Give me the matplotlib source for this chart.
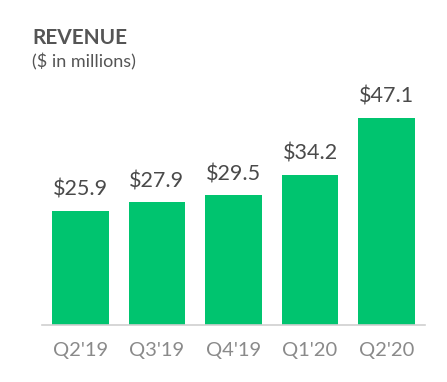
import matplotlib.pyplot as plt

quarters = ["Q2'19", "Q3'19", "Q4'19", "Q1'20", "Q2'20"]
revenue = [25.9, 27.9, 29.5, 34.2, 47.1]

green = '#00C46F'
plt.rcParams['font.family'] = ['Lato', 'DejaVu Sans']

fig = plt.figure(figsize=(4.47, 3.82), dpi=100)
ax = fig.add_axes([42/447, 57/382, 383/447, 220/382])

x = range(len(quarters))
bars = ax.bar(x, revenue, width=0.74, color=green)
for xi, v in zip(x, revenue):
    ax.annotate('$%.1f' % v, (xi, v), xytext=(0, 8), textcoords='offset points',
                ha='center', va='bottom', fontsize=15.5, color='#4a4a4a')

ax.set_xlim(-0.5, 4.5)
ax.set_ylim(0, 50)
ax.set_xticks(list(x))
ax.set_xticklabels(quarters, fontsize=14.5, color='#8a8a8a')
ax.tick_params(axis='x', length=0, pad=12)
ax.set_yticks([])
for s in ['top', 'right', 'left']:
    ax.spines[s].set_visible(False)
ax.spines['bottom'].set_color('#d0d0d0')
ax.spines['bottom'].set_linewidth(1.2)

fig.text(32/447, 1 - 38/382, 'REVENUE', fontsize=15, fontweight='bold',
         color='#555555', va='center', ha='left')
fig.text(32/447, 1 - 62/382, '($ in millions)', fontsize=13,
         color='#555555', va='center', ha='left')

fig.savefig('out.png', dpi=100)
